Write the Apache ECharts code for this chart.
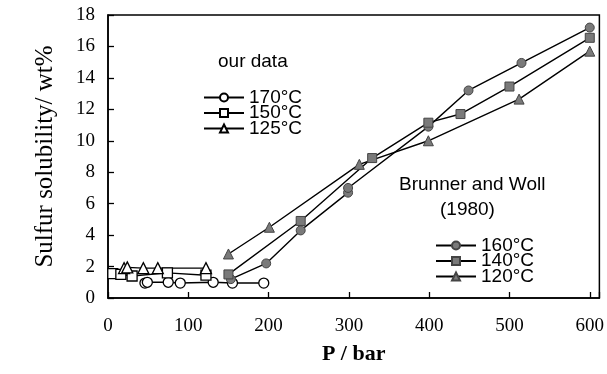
<!DOCTYPE html>
<html>
<head>
<meta charset="utf-8">
<script src="https://cdn.jsdelivr.net/npm/echarts@6/dist/echarts.min.js"></script>
<style>
  html, body { margin: 0; padding: 0; background: #fff; }
  #chart { width: 607px; height: 374px; }
</style>
</head>
<body>
<div id="chart"></div>
<script>
// Pressure (bar) / sulfur solubility (wt%) pairs
const ours170 = [[46, 0.95], [49, 1.0], [75, 1.0], [90, 0.95], [131, 1.0], [155, 0.95], [194, 0.95]];
const ours150 = [[6, 1.55], [16, 1.5], [30, 1.4], [74, 1.6], [122, 1.45]];
const ours125 = [[20, 1.9], [24, 1.95], [44, 1.9], [62, 1.9], [122, 1.9]];

const bw160 = [[153, 1.2], [197, 2.2], [240, 4.3], [299, 6.7], [299, 7.0], [399, 10.9], [449, 13.2], [515, 14.95], [600, 17.2]];
const bw140 = [[150, 1.5], [240, 4.9], [329, 8.9], [399, 11.15], [439, 11.7], [500, 13.45], [600, 16.55]];
const bw120 = [[150, 2.8], [201, 4.5], [313, 8.5], [399, 10.0], [512, 12.65], [600, 15.7]];

const xTicks = [0, 100, 200, 300, 400, 500, 600];
const yTicks = [0, 2, 4, 6, 8, 10, 12, 14, 16, 18];

const serif = '"Liberation Serif", "Times New Roman", serif';
const sans = '"Liberation Sans", Arial, sans-serif';

function openSeries(name, data, symbol, size) {
  return {
    name, type: 'line', data, symbol, symbolSize: size,
    lineStyle: { color: '#000', width: 1.4 },
    itemStyle: { color: '#fff', borderColor: '#000', borderWidth: 1.3 },
    emphasis: { disabled: true }, animation: false, z: 3
  };
}
function filledSeries(name, data, symbol, size) {
  return {
    name, type: 'line', data, symbol, symbolSize: size,
    lineStyle: { color: '#000', width: 1.4 },
    itemStyle: { color: '#7a7a7a', borderColor: '#444', borderWidth: 1 },
    emphasis: { disabled: true }, animation: false, z: 4
  };
}

const chart = echarts.init(document.getElementById('chart'), null, { renderer: 'canvas' });

const legendText = { fontFamily: sans, fontSize: 19, color: '#000' };

chart.setOption({
  backgroundColor: '#fff',
  animation: false,
  grid: {
    left: 108, right: 4, top: 15, bottom: 76,
    show: true, borderColor: '#000', borderWidth: 1.5, backgroundColor: 'transparent'
  },
  xAxis: {
    type: 'value', min: 0, max: 612, interval: 100,
    name: 'P / bar', nameLocation: 'middle', nameGap: 45,
    nameTextStyle: { fontFamily: serif, fontSize: 22, fontWeight: 'bold', color: '#000' },
    axisLine: { show: true, lineStyle: { color: '#000', width: 1.5 } },
    axisTick: { show: true, inside: true, length: 6, lineStyle: { color: '#000', width: 1.3 } },
    axisLabel: { fontFamily: serif, fontSize: 19, color: '#000', margin: 19, customValues: xTicks },
    splitLine: { show: false }
  },
  yAxis: {
    type: 'value', min: 0, max: 18, interval: 2,
    name: 'Sulfur solubility/ wt%', nameLocation: 'middle', nameGap: 50, nameRotate: 90,
    nameTextStyle: { fontFamily: serif, fontSize: 25, color: '#000' },
    axisLine: { show: true, lineStyle: { color: '#000', width: 1.5 } },
    axisTick: { show: true, inside: true, length: 6, lineStyle: { color: '#000', width: 1.3 } },
    axisLabel: { fontFamily: serif, fontSize: 19, color: '#000', margin: 13, customValues: yTicks },
    splitLine: { show: false }
  },
  legend: [
    {
      data: ['170°C', '150°C', '125°C'],
      orient: 'vertical', left: 203, top: 88,
      itemWidth: 40, itemHeight: 10, itemGap: -3.5, padding: 0,
      textStyle: legendText, selectedMode: false
    },
    {
      data: ['160°C', '140°C', '120°C'],
      orient: 'vertical', left: 435, top: 236,
      itemWidth: 40, itemHeight: 10, itemGap: -3.5, padding: 0,
      textStyle: legendText, selectedMode: false
    }
  ],
  graphic: [
    { type: 'text', left: 218, top: 52, style: { text: 'our data', font: '19px ' + sans, fill: '#000' } },
    { type: 'text', left: 399, top: 175, style: { text: 'Brunner and Woll', font: '19px ' + sans, fill: '#000' } },
    { type: 'text', left: 440, top: 200, style: { text: '(1980)', font: '19px ' + sans, fill: '#000' } }
  ],
  series: [
    openSeries('170°C', ours170, 'circle', 10),
    openSeries('150°C', ours150, 'rect', 10),
    openSeries('125°C', ours125, 'triangle', 11),
    filledSeries('160°C', bw160, 'circle', 9),
    filledSeries('140°C', bw140, 'rect', 9),
    filledSeries('120°C', bw120, 'triangle', 10)
  ]
});
</script>
</body>
</html>
